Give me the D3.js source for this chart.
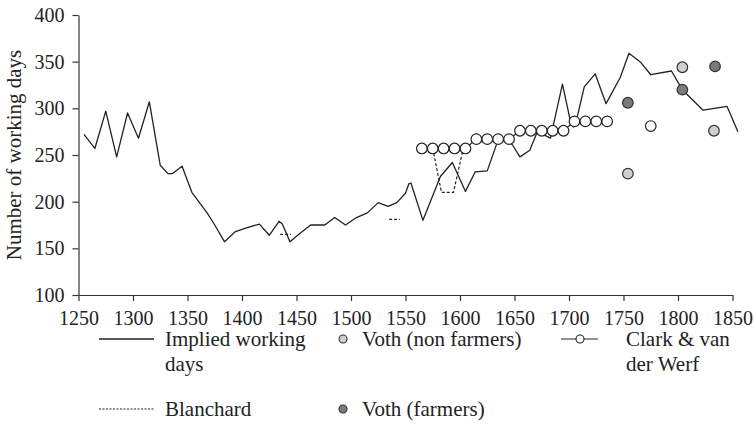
<!DOCTYPE html>
<html>
<head>
<meta charset="utf-8">
<script src="https://cdn.jsdelivr.net/npm/d3@7"></script>
<style>
  html, body { margin: 0; padding: 0; background: #fff; }
  svg { display: block; }
  text { font-family: "Liberation Serif", "DejaVu Serif", serif; fill: #222; }
</style>
</head>
<body>
<svg id="chart" width="754" height="435"></svg>
<script>
// ---- data ----
const xTicks = [1250, 1300, 1350, 1400, 1450, 1500, 1550, 1600, 1650, 1700, 1750, 1800, 1850];
const yTicks = [100, 150, 200, 250, 300, 350, 400];

const impliedYears = [1255,1265,1275,1285,1295,1305,1315,1325,1332,1336,1345,1354,1368,1375,1384,1394,1404,1416,1425,1434,1437,1444,1453,1463,1476,1485,1495,1505,1515,1525,1534,1542,1550,1553,1555,1566,1582,1593,1605,1614,1625,1634,1641,1648,1655,1664,1671,1683,1694,1701,1704,1708,1714,1724,1734,1747,1755,1766,1775,1794,1804,1823,1845,1855];
const impliedValues = [272,257,297,248,295,268,307,239,230,230,238,210,188,175,157,168,172,176,164,179,176,157,166,175,175,183,175,183,188,199,195,199,209,219,220,180,227,242,211,232,233,263,268,261,248,255,275,268,326,288,280,293,323,337,305,333,359,349,336,340,320,298,302,275];

const blanchardYears = [1435,1445,1490,1535,1545,1560,1575,1583,1594,1603];
const blanchardValues = [165,165,null,181,181,null,257,210,210,257];

const clarkYears = [1565,1575,1585,1595,1605,1615,1625,1635,1645,1655,1665,1675,1685,1695,1705,1715,1725,1735,1755,1775];
const clarkValues = [257,257,257,257,257,267,267,267,267,276,276,276,276,276,286,286,286,286,null,281];

const vothNonYears = [1754,1804,1833];
const vothNonValues = [230,344,276];
const vothFarmYears = [1754,1804,1834];
const vothFarmValues = [306,320,345];

const legendLabels = [["Implied working","days"],["Voth (non farmers)"],["Clark & van","der Werf"],["Blanchard"],["Voth (farmers)"]];

// ---- chart ----
const svg = d3.select("#chart");
const x = d3.scaleLinear().domain([1250, 1850]).range([78.5, 732.5]);
const y = d3.scaleLinear().domain([100, 400]).range([295, 15]);
const fs = 20, lfs = 21;

const xAxis = svg.append("g").attr("transform", "translate(0,295)")
  .call(d3.axisBottom(x).tickValues(xTicks).tickFormat(d3.format("d")).tickSize(6).tickSizeOuter(0));
const yAxis = svg.append("g").attr("transform", "translate(78.5,0)")
  .call(d3.axisLeft(y).tickValues(yTicks).tickSize(6).tickSizeOuter(0));
[xAxis, yAxis].forEach(g => {
  g.selectAll("path,line").attr("stroke", "#333").attr("stroke-width", 1.2);
  g.selectAll("text").style("font-family", '"Liberation Serif", serif').style("font-size", fs + "px").attr("fill", "#222");
});
xAxis.selectAll("text").attr("dy", "1.05em");
yAxis.selectAll("text").attr("x", -14);

svg.append("text")
  .attr("transform", "translate(21,155) rotate(-90)")
  .attr("text-anchor", "middle")
  .style("font-size", "21px")
  .text("Number of working days");

const ink = "#222";

// implied line
const impl = impliedYears.map((d, i) => [d, impliedValues[i]]);
svg.append("path").datum(impl)
  .attr("fill", "none").attr("stroke", ink).attr("stroke-width", 1.3).attr("stroke-linejoin", "round")
  .attr("d", d3.line().x(d => x(d[0])).y(d => y(d[1])));

// Blanchard dashed
const bl = blanchardYears.map((d, i) => [d, blanchardValues[i]]);
svg.append("path").datum(bl)
  .attr("fill", "none").attr("stroke", ink).attr("stroke-width", 1.2).attr("stroke-dasharray", "3,2")
  .attr("d", d3.line().defined(d => d[1] != null).x(d => x(d[0])).y(d => y(d[1])));

// Clark & van der Werf
const cl = clarkYears.map((d, i) => [d, clarkValues[i]]);
svg.append("path").datum(cl)
  .attr("fill", "none").attr("stroke", ink).attr("stroke-width", 1.2)
  .attr("d", d3.line().defined(d => d[1] != null).x(d => x(d[0])).y(d => y(d[1])));
svg.append("g").selectAll("circle").data(cl.filter(d => d[1] != null)).join("circle")
  .attr("cx", d => x(d[0])).attr("cy", d => y(d[1])).attr("r", 5.3)
  .attr("fill", "#fff").attr("stroke", ink).attr("stroke-width", 1.2);

// Voth
svg.append("g").selectAll("circle").data(vothNonYears.map((d, i) => [d, vothNonValues[i]])).join("circle")
  .attr("cx", d => x(d[0])).attr("cy", d => y(d[1])).attr("r", 5.3)
  .attr("fill", "#cfcfcf").attr("stroke", "#333").attr("stroke-width", 1.2);
svg.append("g").selectAll("circle").data(vothFarmYears.map((d, i) => [d, vothFarmValues[i]])).join("circle")
  .attr("cx", d => x(d[0])).attr("cy", d => y(d[1])).attr("r", 5.3)
  .attr("fill", "#7a7a7a").attr("stroke", "#333").attr("stroke-width", 1.2);

// ---- legend ----
const lg = svg.append("g");
const row1 = 339, row2 = 409, lineH = 25;
function addText(tx, ty, lines) {
  const t = lg.append("text").attr("x", tx).attr("y", ty).style("font-size", lfs + "px");
  lines.forEach((s, i) => t.append("tspan").attr("x", tx).attr("dy", i === 0 ? "0.35em" : lineH).text(s));
}
// implied
lg.append("line").attr("x1", 99).attr("x2", 154).attr("y1", row1).attr("y2", row1).attr("stroke", ink).attr("stroke-width", 1.3);
addText(165, row1, legendLabels[0]);
// voth non
lg.append("circle").attr("cx", 343).attr("cy", row1).attr("r", 4).attr("fill", "#cfcfcf").attr("stroke", "#333").attr("stroke-width", 1.1);
addText(362, row1, legendLabels[1]);
// clark
lg.append("line").attr("x1", 561).attr("x2", 598).attr("y1", row1).attr("y2", row1).attr("stroke", ink).attr("stroke-width", 1.2);
lg.append("circle").attr("cx", 580).attr("cy", row1).attr("r", 4).attr("fill", "#fff").attr("stroke", ink).attr("stroke-width", 1.1);
addText(626, row1, legendLabels[2]);
// blanchard
lg.append("line").attr("x1", 99).attr("x2", 154).attr("y1", row2).attr("y2", row2).attr("stroke", ink).attr("stroke-width", 1.1).attr("stroke-dasharray", "2,1.5");
addText(165, row2, legendLabels[3]);
// voth farm
lg.append("circle").attr("cx", 343).attr("cy", row2).attr("r", 4).attr("fill", "#7a7a7a").attr("stroke", "#333").attr("stroke-width", 1.1);
addText(362, row2, legendLabels[4]);
</script>
</body>
</html>
